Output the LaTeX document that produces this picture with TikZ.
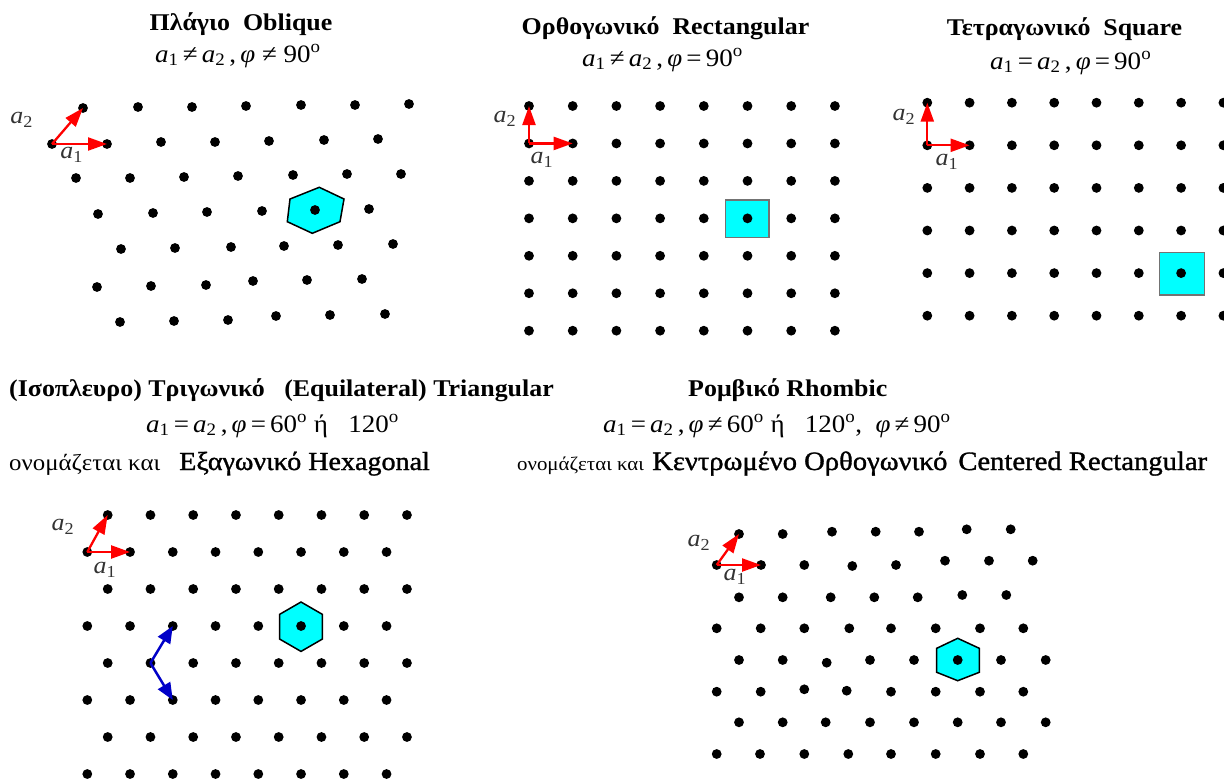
\documentclass[tikz,border=0pt]{standalone}
\usepackage{fontspec}
\setmainfont{Liberation Serif}[FakeStretch=1.08]
\usetikzlibrary{arrows.meta}
\definecolor{vecred}{RGB}{255,0,0}
\definecolor{vecblue}{RGB}{0,0,200}
\definecolor{cellcyan}{RGB}{0,255,255}
\newcommand\fa[1]{\textit{a}\textsubscript{#1}}
\newcommand\phiv{\textit{φ}}
\newcommand\dg{\textsuperscript{o}}
\begin{document}
\begin{tikzpicture}[x=1pt,y=-1pt,
  vec/.style={draw=vecred, line width=2.3pt, -{Triangle[length=19pt,width=13pt,fill=vecred]}},
  bvec/.style={draw=vecblue, line width=2.5pt, -{Triangle[length=17pt,width=14pt,fill=vecblue]}},
  hexcell/.style={fill=cellcyan, draw=black, line width=1.5pt, line join=miter},
  boxcell/.style={fill=cellcyan, draw=black!55, line width=1.1pt},
  ttl/.style={font=\fontsize{24}{28}\selectfont\bfseries, inner sep=0pt},
  fml/.style={font=\fontsize{25}{28}\selectfont, inner sep=0pt, anchor=base west},
  note/.style={font=\fontsize{23}{26}\selectfont, inner sep=0pt, anchor=base west},
  sub/.style={font=\fontsize{26}{30}\selectfont\addfontfeatures{FakeBold=1.2}, inner sep=0pt, anchor=base west},
  lbl/.style={font=\fontsize{24}{26}\selectfont, inner sep=0pt, text=black!80},
  pt/.style={radius=4.9pt}
]
\useasboundingbox (0,0) rectangle (1224,780);
\clip (0,0) rectangle (1224,780);

% ---------------- Oblique ----------------
\node[ttl, anchor=base] (t-ob) at (241,30) {Πλάγιο\ \ Oblique};
\node[fml] (f-ob) at (155,62) {\fa1\,≠\,\fa2\,,\,\phiv\ ≠ 90\dg};
\draw[hexcell] (319.3,187.3) -- (344,199) -- (340,221.7) -- (312.3,233.3)
  -- (287.3,221.7) -- (290,199) -- cycle;
\foreach \px/\py in {
  83/108,138/107,192/107,246/106,301/105,355/105,409/104,
  52/144,107/144,161/142,215/142,269/141,324/140,378/139,
  76/178,130/178,184/177,238/176,293/175,347/174,401/174,
  98/214,153/213,207/212,262/211,315/210,369/209,
  121/249,175/248,231/247,284/246,338/245,393/244,
  97/287,151/286,206/285,253/281,307/280,362/279,
  120/322,174/321,228/320,276/316,330/315,385/314}
  \fill (\px,\py) circle[pt];
\coordinate (ob0) at (52,144);
\coordinate (ob1) at (107,144);
\coordinate (ob2) at (83,108);
\draw[vec] (ob0) -- (ob1);
\draw[vec] (ob0) -- (ob2);
\node[lbl] (ob-a2) at (21.7,120) {\fa2};
\node[lbl] (ob-a1) at (71.7,155) {\fa1};

% ---------------- Rectangular ----------------
\node[ttl, anchor=base] (t-re) at (665.5,34) {Ορθογωνικό\ \ Rectangular};
\node[fml] (f-re) at (582,66) {\fa1\,≠\,\fa2\,,\,\phiv\,=\,90\dg};
\draw[boxcell] (725.7,200) rectangle (769,237.3);
\foreach \i in {0,...,7}
  \foreach \j in {0,...,6}
    \fill ({529+43.7*\i},{106+37.45*\j}) circle[pt];
\coordinate (re0) at (529,143.45);
\coordinate (re1) at (572.7,143.45);
\coordinate (re2) at (529,106);
\draw[vec] (re0) -- (re1);
\draw[vec] (re0) -- (re2);
\node[lbl] (re-a2) at (505,119) {\fa2};
\node[lbl] (re-a1) at (542,160) {\fa1};

% ---------------- Square ----------------
\node[ttl, anchor=base] (t-sq) at (1064.5,35) {Τετραγωνικό\ \ Square};
\node[fml] (f-sq) at (990,69) {\fa1\,=\,\fa2\,,\,\phiv\,=\,90\dg};
\draw[boxcell] (1159.3,252.3) rectangle (1204.3,295);
\foreach \i in {0,...,7}
  \foreach \j in {0,...,5}
    \fill ({927.3+42.3*\i},{102.7+42.6*\j}) circle[pt];
\coordinate (sq0) at (927.3,145.3);
\coordinate (sq1) at (969.6,145.3);
\coordinate (sq2) at (927.3,102.7);
\draw[vec] (sq0) -- (sq1);
\draw[vec] (sq0) -- (sq2);
\node[lbl] (sq-a2) at (904,117) {\fa2};
\node[lbl] (sq-a1) at (947,162) {\fa1};

% ---------------- Triangular / hexagonal ----------------
\node[ttl, anchor=base west] (t-tr) at (9,396) {(Ισοπλευρο) Τριγωνικό\ \ \ (Equilateral) Triangular};
\node[fml] (f-tr) at (146,432) {\fa1\,=\,\fa2\,,\,\phiv\,=\,60\dg\ ή\ \ \ 120\dg};
\node[note] (n-tr) at (9,470) {ονομάζεται και};
\node[sub] (s-tr) at (179,470) {Εξαγωνικό Hexagonal};
\draw[hexcell] (301,602) -- (322.4,614.35) -- (322.4,639.05) -- (301,651.4)
  -- (279.6,639.05) -- (279.6,614.35) -- cycle;
\foreach \j in {0,2,4,6}
  \foreach \i in {0,...,7}
    \fill ({107.7+42.75*\i},{515+37*\j}) circle[pt];
\foreach \j in {1,3,5,7}
  \foreach \i in {0,...,7}
    \fill ({87.3+42.75*\i},{515+37*\j}) circle[pt];
\coordinate (tr0) at (87.3,552);
\coordinate (tr1) at (130.05,552);
\coordinate (tr2) at (107.7,515);
\draw[vec] (tr0) -- (tr1);
\draw[vec] (tr0) -- (tr2);
\node[lbl] (tr-a2) at (63,527) {\fa2};
\node[lbl] (tr-a1) at (105,570) {\fa1};
\coordinate (tb0) at (150.45,663);
\coordinate (tb1) at (172.8,626);
\coordinate (tb2) at (172.8,700);
\draw[bvec] (tb0) -- (tb1);
\draw[bvec] (tb0) -- (tb2);

% ---------------- Rhombic / centered rectangular ----------------
\node[ttl, anchor=base west] (t-rh) at (688,396) {Ρομβικό Rhombic};
\node[fml] (f-rh) at (603,432) {\fa1\,=\,\fa2\,,\,\phiv\,≠\,60\dg\ ή\ \ \ 120\dg,\ \ \phiv\,≠\,90\dg};
\node[note, font=\fontsize{19.3}{22}\selectfont] (n-rh) at (517,470) {ονομάζεται και};
\node[sub, font=\fontsize{26.5}{30}\selectfont\addfontfeatures{FakeBold=1.2}] (s-rh) at (652,470) {Κεντρωμένο Ορθογωνικό\hspace{11pt}Centered Rectangular};
\draw[hexcell] (957.7,638.3) -- (979.3,648.3) -- (979.3,672.3) -- (957.7,680.7)
  -- (936.7,672.3) -- (936.7,648.3) -- cycle;
\foreach \px/\py in {
  739/534,782.7/534,832/531.7,875.7/531.7,919/531.7,966.7/529.3,1010.7/529.3,
  716.7/565,761/565,804.3/565,852.3/566,896/565,945/560.7,989/560.7,1032.7/560.7,
  739/597.3,782.7/597.3,830.7/597.3,874.3/597.3,917.7/597.3,962.3/595,1006.3/595,
  716.7/628.3,760.7/628.3,804.3/628.3,849.3/628.3,891/628.3,935.7/628.3,980/628.3,1023.3/628.3,
  739/660,782.7/660,826.7/662.7,870/660,914/660,957.7/660,1001/660,1045.7/660,
  716.7/691.7,760.7/691.7,804.3/689.3,846.7/690.7,891/691.7,935.7/691.7,980/691.7,1023.3/691.7,
  739/722.3,782.7/722.3,825.7/722.3,870/722.3,914/722.3,957.7/722.3,1001/722.3,1045.7/722.3,
  716.7/754,760/754,804.3/754,848.3/754,891/754,935.7/754,980/754,1023.3/754}
  \fill (\px,\py) circle[pt];
\coordinate (rh0) at (716.7,565);
\coordinate (rh1) at (761,565);
\coordinate (rh2) at (739,534);
\draw[vec] (rh0) -- (rh1);
\draw[vec] (rh0) -- (rh2);
\node[lbl] (rh-a2) at (699,543) {\fa2};
\node[lbl] (rh-a1) at (735,577) {\fa1};
\end{tikzpicture}
\end{document}
